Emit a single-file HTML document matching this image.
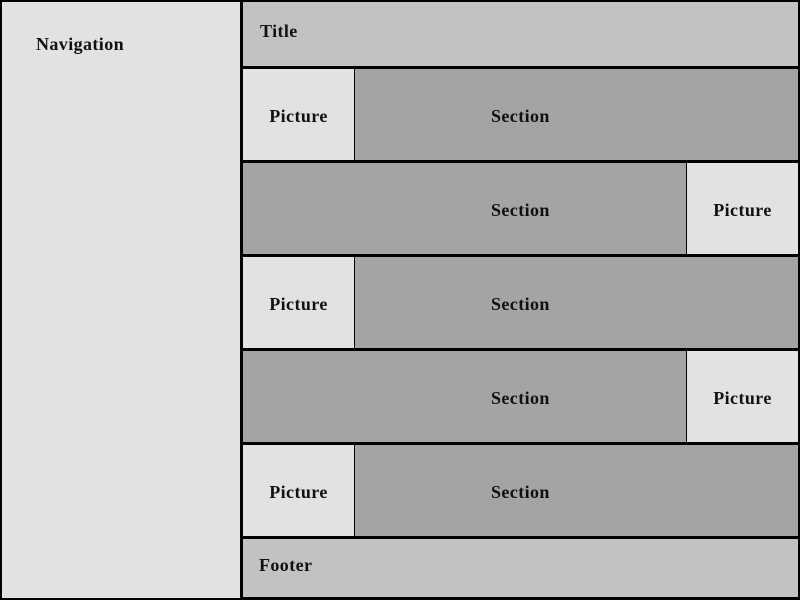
<!DOCTYPE html>
<html><head><style>
body{margin:0;width:800px;height:600px;background:#000;position:relative;overflow:hidden;font-family:"Liberation Serif",serif;font-weight:bold;font-size:18px;letter-spacing:0.4px;color:#111}
div{position:absolute;box-sizing:border-box}
.t{display:flex;align-items:center;justify-content:center;padding-top:3px}
.p{background:#e2e2e2}.s{background:#a4a4a4}
</style></head><body>
<div style="left:2px;top:2px;width:238px;height:596px;background:#e2e2e2"><span style="position:absolute;left:34px;top:32px">Navigation</span></div>
<div style="left:243px;top:2px;width:555px;height:64px;background:#c2c2c2"><span style="position:absolute;left:17px;top:19px">Title</span></div>

<div class="p t" style="left:243px;top:69px;width:111px;height:91px">Picture</div>
<div class="s" style="left:355px;top:69px;width:443px;height:91px"><span style="position:absolute;left:136px;top:37px">Section</span></div>

<div class="s" style="left:243px;top:163px;width:443px;height:91px"><span style="position:absolute;left:248px;top:37px">Section</span></div>
<div class="p t" style="left:687px;top:163px;width:111px;height:91px">Picture</div>

<div class="p t" style="left:243px;top:257px;width:111px;height:91px">Picture</div>
<div class="s" style="left:355px;top:257px;width:443px;height:91px"><span style="position:absolute;left:136px;top:37px">Section</span></div>

<div class="s" style="left:243px;top:351px;width:443px;height:91px"><span style="position:absolute;left:248px;top:37px">Section</span></div>
<div class="p t" style="left:687px;top:351px;width:111px;height:91px">Picture</div>

<div class="p t" style="left:243px;top:445px;width:111px;height:91px">Picture</div>
<div class="s" style="left:355px;top:445px;width:443px;height:91px"><span style="position:absolute;left:136px;top:37px">Section</span></div>

<div style="left:243px;top:539px;width:555px;height:58px;background:#c2c2c2"><span style="position:absolute;left:16px;top:16px">Footer</span></div>
</body></html>
